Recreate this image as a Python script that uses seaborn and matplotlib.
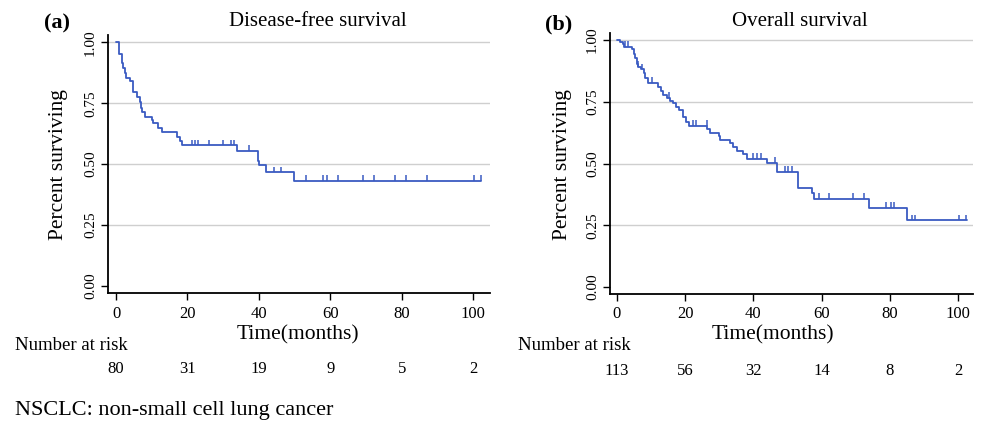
import numpy as np
import pandas as pd
import matplotlib
matplotlib.use("Agg")
import matplotlib.pyplot as plt
import matplotlib.transforms as mtransforms
import seaborn as sns

# ---------------- data ----------------
# Disease-free survival (a): step times (months) and survival after each step
dfs_times = [0, 0.84, 1.77, 2.05, 2.4, 2.7, 3.9, 4.85, 5.8, 6.7, 6.9, 7.2, 8.1, 10.0, 10.4,
             11.8, 12.8, 17.0, 17.9, 18.4, 33.8, 39.8, 40.1, 41.9, 49.9, 102.3]
dfs_surv = [1.0, 0.952, 0.914, 0.893, 0.875, 0.855, 0.841, 0.798, 0.777, 0.757, 0.730, 0.716,
            0.695, 0.682, 0.668, 0.650, 0.634, 0.613, 0.595, 0.579, 0.555, 0.515, 0.497,
            0.467, 0.432, 0.432]
dfs_censor = [21.2, 22.1, 23.0, 26.1, 30.0, 32.1, 33.0, 37.1, 44.2, 46.1, 53.2, 58.0, 59.1,
              62.1, 69.1, 72.1, 78.1, 81.1, 87.1, 100.2, 102.2]

# Overall survival (b)
os_times = [0, 0.97, 1.8, 2.1, 4.4, 5.0, 5.3, 6.0, 6.2, 7.0, 8.0, 8.2, 9.1, 12.2, 12.9, 13.6,
            14.6, 15.6, 16.4, 17.4, 18.3, 19.3, 20.3, 21.2, 26.5, 27.3, 30.0, 30.2, 33.2, 34.1,
            35.1, 37.0, 38.0, 44.1, 46.8, 53.0, 57.1, 57.8, 73.9, 84.9, 102.4]
os_surv = [1.0, 0.991, 0.982, 0.973, 0.962, 0.943, 0.926, 0.903, 0.892, 0.881, 0.865, 0.845,
           0.827, 0.811, 0.795, 0.777, 0.766, 0.754, 0.743, 0.730, 0.716, 0.689, 0.669, 0.653,
           0.640, 0.624, 0.611, 0.597, 0.581, 0.568, 0.551, 0.537, 0.520, 0.503, 0.466, 0.399,
           0.379, 0.358, 0.321, 0.270, 0.270]
os_censor = [2.4, 3.2, 6.3, 7.5, 10.2, 15.3, 22.2, 23.1, 26.3, 40.0, 41.1, 42.2, 46.3, 49.2,
             50.2, 51.2, 59.2, 62.2, 69.2, 72.3, 78.8, 80.2, 81.2, 86.3, 87.3, 100.2, 102.2]

risk_times = [0, 20, 40, 60, 80, 100]
dfs_risk = [80, 31, 19, 9, 5, 2]
os_risk = [113, 56, 32, 14, 8, 2]

x_ticks = [0, 20, 40, 60, 80, 100]
y_ticks = [0.0, 0.25, 0.5, 0.75, 1.0]

# ---------------- style ----------------
sns.set_theme(style="white")
plt.rcParams["font.family"] = ["Liberation Serif", "DejaVu Serif"]
plt.rcParams["text.color"] = "black"
plt.rcParams["axes.labelcolor"] = "black"
plt.rcParams["xtick.color"] = "black"
plt.rcParams["ytick.color"] = "black"
LINE = "#3a5bc2"
GRID = "#cfcfcf"

W, H = 981, 423
fig = plt.figure(figsize=(W / 100, H / 100), dpi=100)


def fx(px):
    return px / W


def fy(py):
    return 1 - py / H


def panel(rect, times, surv, censor, risk, xlim, ylim, letter, letter_xy, title, title_xy,
          ylab_x, xlab_xy, nar_xy, risk_y):
    ax = fig.add_axes(rect)
    df = pd.DataFrame({"t": times, "s": surv})
    sns.lineplot(data=df, x="t", y="s", drawstyle="steps-post", estimator=None, sort=False,
                 color=LINE, lw=1.3, ax=ax, zorder=3)
    t_arr = np.asarray(times)
    s_arr = np.asarray(surv)
    idx = np.searchsorted(t_arr, np.asarray(censor), side="right") - 1
    cs = s_arr[np.clip(idx, 0, len(s_arr) - 1)]
    ax.vlines(censor, cs, cs + 0.022, color=LINE, lw=1.1, zorder=3)
    for yv in y_ticks[1:]:
        ax.axhline(yv, color=GRID, lw=1.0, zorder=0)
    ax.set_xlim(*xlim)
    ax.set_ylim(*ylim)
    ax.set_xticks(x_ticks)
    ax.set_yticks(y_ticks)
    ax.set_yticklabels([f"{v:.2f}" for v in y_ticks], rotation=90, va="center", fontsize=11)
    ax.set_xticklabels([str(v) for v in x_ticks], fontsize=12)
    ax.set_xlabel("")
    ax.set_ylabel("")
    for sp in ["top", "right"]:
        ax.spines[sp].set_visible(False)
    for sp in ["left", "bottom"]:
        ax.spines[sp].set_color("black")
        ax.spines[sp].set_linewidth(1.3)
    ax.tick_params(axis="both", which="both", direction="out", length=5, width=1,
                   color="black", labelcolor="black", left=True, bottom=True)
    ax.tick_params(axis="y", pad=3)
    ax.tick_params(axis="x", pad=4)
    # texts
    fig.text(fx(letter_xy[0]), fy(letter_xy[1]), letter, fontsize=16, fontweight="bold",
             ha="center", va="center")
    fig.text(fx(title_xy[0]), fy(title_xy[1]), title, fontsize=15, ha="center", va="center")
    fig.text(fx(ylab_x), fy(165), "Percent surviving", fontsize=15.5, rotation=90,
             ha="center", va="center")
    fig.text(fx(xlab_xy[0]), fy(xlab_xy[1]), "Time(months)", fontsize=15.5, ha="center",
             va="center")
    fig.text(fx(nar_xy[0]), fy(nar_xy[1]), "Number at risk", fontsize=13.5, ha="left",
             va="center")
    trans = mtransforms.blended_transform_factory(ax.transData, fig.transFigure)
    for t, n in zip(risk_times, risk):
        ax.text(t, fy(risk_y), str(n), transform=trans, fontsize=12, ha="center",
                va="center")
    return ax


panel([fx(108), fy(293), fx(490) - fx(108), fy(35) - fy(293)],
      dfs_times, dfs_surv, dfs_censor, dfs_risk,
      xlim=(-2.24, 104.7), ylim=(-0.0287, 1.030),
      letter="(a)", letter_xy=(57, 23), title="Disease-free survival", title_xy=(318, 22),
      ylab_x=59, xlab_xy=(298, 335), nar_xy=(15, 345), risk_y=369)

panel([fx(610), fy(294), fx(973) - fx(610), fy(33) - fy(294)],
      os_times, os_surv, os_censor, os_risk,
      xlim=(-1.96, 104.3), ylim=(-0.028, 1.028),
      letter="(b)", letter_xy=(559, 24), title="Overall survival", title_xy=(800, 21),
      ylab_x=563, xlab_xy=(773, 335), nar_xy=(518, 346), risk_y=371)

fig.text(fx(15), fy(410), "NSCLC: non-small cell lung cancer", fontsize=16, ha="left",
         va="center")

fig.savefig("out.png", dpi=100)
